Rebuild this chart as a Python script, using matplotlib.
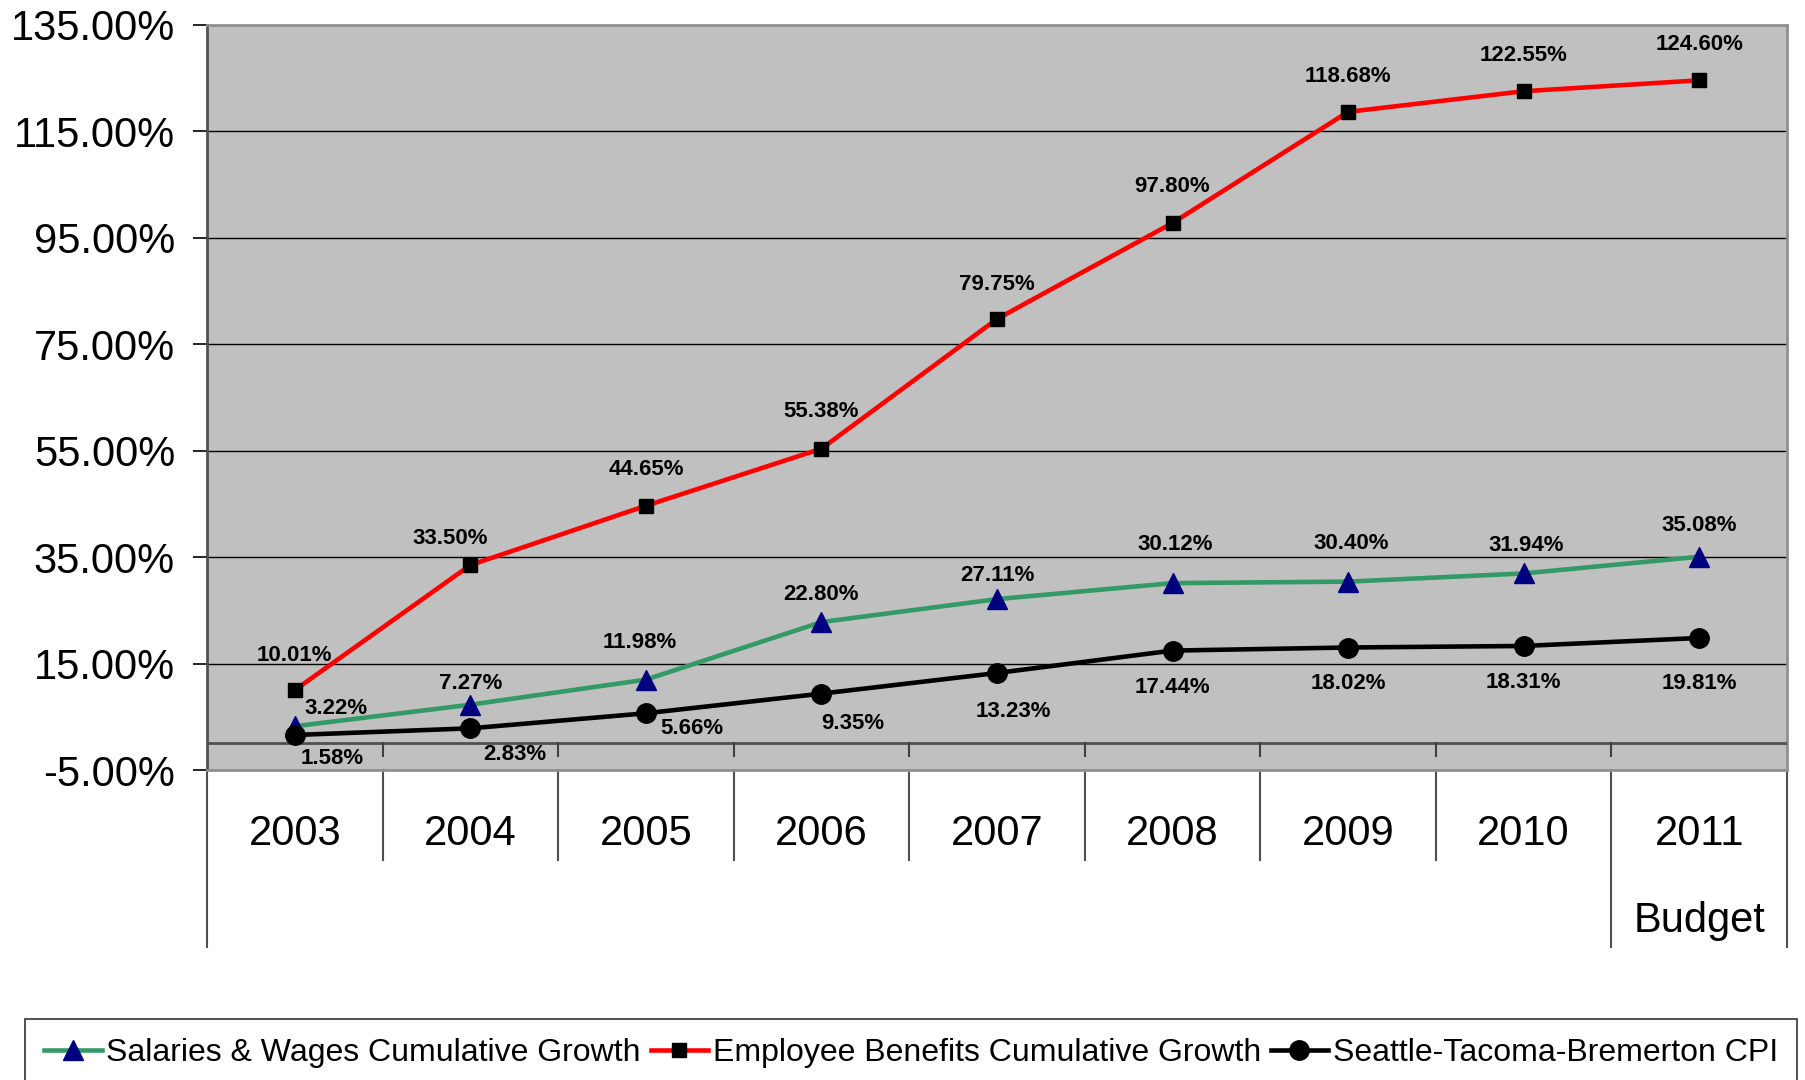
import numpy as np
import matplotlib
matplotlib.use("Agg")
import matplotlib.pyplot as plt
from matplotlib.lines import Line2D
import matplotlib.transforms as mtransforms

plt.rcParams['font.family'] = ['Liberation Sans', 'DejaVu Sans']

# 데이터
years = ['2003', '2004', '2005', '2006', '2007', '2008', '2009', '2010', '2011']
sub_labels = ['', '', '', '', '', '', '', '', 'Budget']
salaries = [3.22, 7.27, 11.98, 22.80, 27.11, 30.12, 30.40, 31.94, 35.08]
benefits = [10.01, 33.50, 44.65, 55.38, 79.75, 97.80, 118.68, 122.55, 124.60]
cpi = [1.58, 2.83, 5.66, 9.35, 13.23, 17.44, 18.02, 18.31, 19.81]
y_ticks = [-5, 15, 35, 55, 75, 95, 115, 135]

# 라벨 오프셋 (픽셀, 아래쪽이 +)
sal_off = [(41, -18), (0, -21), (-6, -37), (0, -28), (0, -24), (3, -39), (3, -38), (3, -28), (0, -31)]
ben_off = [(0, -35), (-20, -27), (0, -36), (0, -37), (0, -35), (0, -36), (0, -35), (0, -36), (0, -36)]
cpi_off = [(37, 24), (44, 26), (46, 15), (31, 30), (16, 39), (0, 37), (0, 36), (0, 37), (0, 46)]

W, H = 1805, 1080
fig = plt.figure(figsize=(W / 100, H / 100), dpi=100)
ax = fig.add_axes([207 / W, 1 - 770 / H, (1787 - 207) / W, (770 - 25) / H])
ax.set_facecolor('#C0C0C0')

x = np.arange(len(years))

ax.plot(x, salaries, color='#339966', lw=3.3, marker='^', ms=14,
        mfc='#000080', mec='#000080', zorder=4)
ax.plot(x, benefits, color='#FF0000', lw=3.3, marker='s', ms=10,
        mfc='black', mec='black', zorder=4)
ax.plot(x, cpi, color='black', lw=3.3, marker='o', ms=14,
        mfc='black', mec='black', zorder=5)

for vals, offs in [(salaries, sal_off), (benefits, ben_off), (cpi, cpi_off)]:
    for xi, v, (dx, dy) in zip(x, vals, offs):
        ax.annotate(f'{v:.2f}%', (xi, v), xytext=(dx * 0.72, -dy * 0.72),
                    textcoords='offset points', ha='center', va='center',
                    fontsize=16, fontweight='bold', zorder=6)

ax.set_xlim(-0.5, len(years) - 0.5)
ax.set_ylim(-5, 135)
ax.set_yticks(y_ticks)
ax.set_yticklabels([f'{t:.2f}%' for t in y_ticks], fontsize=30)
ax.yaxis.grid(True, color='black', lw=1)
ax.set_axisbelow(True)
ax.tick_params(axis='y', direction='out', length=10, width=1.2, pad=13)
ax.set_xticks([])

for s in ['top', 'right', 'bottom']:
    ax.spines[s].set_color('#909090')
    ax.spines[s].set_linewidth(2)
ax.spines['left'].set_color('#505050')
ax.spines['left'].set_linewidth(2)

# 0% 카테고리 축
ax.axhline(0, color='#505050', lw=2, zorder=3)
trans = mtransforms.blended_transform_factory(ax.transData, ax.transAxes)
bounds = np.arange(len(years) + 1) - 0.5
tick_h = 13 / 745
y0 = (0 + 5) / 140
for b in bounds[1:-1]:
    ax.plot([b, b], [y0, y0 - tick_h], transform=trans, color='#404040', lw=1.5,
            clip_on=False, zorder=3)

# 다단 카테고리 라벨
for b in bounds:
    low = -0.2376 if b in (bounds[0], bounds[-2], bounds[-1]) else -0.1208
    ax.plot([b, b], [0, low], transform=trans, color='#505050', lw=1.5, clip_on=False)
for xi, yr, sub in zip(x, years, sub_labels):
    ax.text(xi, -0.0859, yr, transform=trans, ha='center', va='center', fontsize=30)
    if sub:
        ax.text(xi, -0.2027, sub, transform=trans, ha='center', va='center', fontsize=30)

# 범례
handles = [
    Line2D([], [], color='#339966', lw=3.3, marker='^', ms=14, mfc='#000080', mec='#000080'),
    Line2D([], [], color='#FF0000', lw=3.3, marker='s', ms=10, mfc='black', mec='black'),
    Line2D([], [], color='black', lw=3.3, marker='o', ms=14, mfc='black', mec='black'),
]
labels = ['Salaries & Wages Cumulative Growth', 'Employee Benefits Cumulative Growth',
          'Seattle-Tacoma-Bremerton CPI']
leg = fig.legend(handles, labels, loc='upper left', bbox_to_anchor=(25 / W, 1 - 1019 / H),
                 ncol=3, fontsize=23, frameon=True, fancybox=False, borderaxespad=0,
                 handlelength=1.8, handletextpad=0.15, columnspacing=0.3,
                 borderpad=0.6)
leg.get_frame().set_edgecolor('black')
leg.get_frame().set_linewidth(1.2)

fig.savefig('out.png', dpi=100)
